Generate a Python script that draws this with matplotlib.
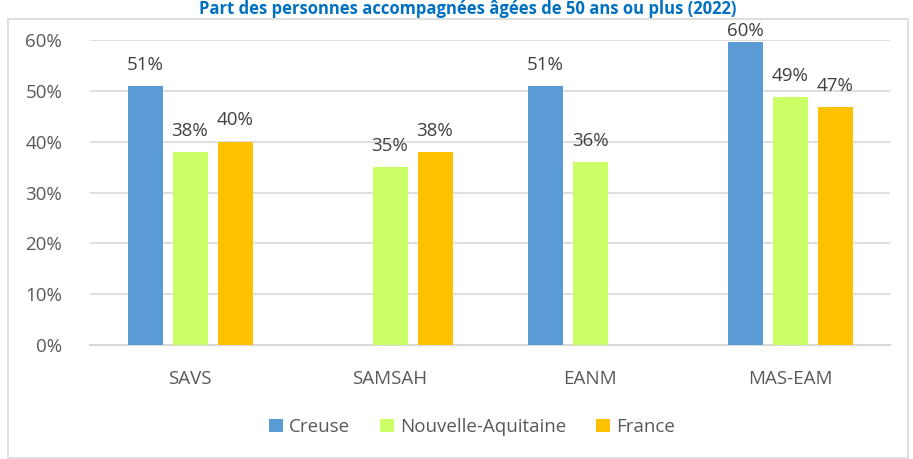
import numpy as np
import matplotlib
matplotlib.use('Agg')
import matplotlib.pyplot as plt
from matplotlib.patches import Rectangle

#==============================================================================
#DATA
#==============================================================================

categories = ['SAVS', 'SAMSAH', 'EANM', 'MAS-EAM']
series = ['Creuse', 'Nouvelle-Aquitaine', 'France']
creuse = [51, np.nan, 51, 59.6]
nouvelle_aquitaine = [38, 35, 36, 48.7]
france = [40, 38, np.nan, 46.8]
labels_creuse = ['51%', '', '51%', '60%']
labels_na = ['38%', '35%', '36%', '49%']
labels_fr = ['40%', '38%', '', '47%']
yticks = [0, 10, 20, 30, 40, 50, 60]

title = 'Part des personnes accompagnées âgées de 50 ans ou plus (2022)'

#==============================================================================
#SETTINGS
#==============================================================================

plt.rcParams['font.family'] = ['Open Sans', 'DejaVu Sans']
colors = ['#5B9BD5', '#CCFF66', '#FFC000']
tick_col = '#595959'
lab_col = '#404040'
font = 13.5

#==============================================================================
#PLOTTING
#==============================================================================

f = plt.figure(figsize=(9.13, 4.59), dpi=100)
ax = f.add_axes([90/913, 1-345/459, 800/913, 305/459])

# chart border
f.patches.append(Rectangle((8/913, 0.002), 900/913, 1-20/459, transform=f.transFigure,
                           fill=False, edgecolor='#d9d9d9', lw=1.2))

x = np.arange(len(categories))
w = 0.175
step = 0.225
data = [creuse, nouvelle_aquitaine, france]
labs = [labels_creuse, labels_na, labels_fr]
for i in range(3):
    xs = x + (i-1)*step
    ax.bar(xs, data[i], w, color=colors[i], label=series[i], zorder=3)
    for xi, v, t in zip(xs, data[i], labs[i]):
        if t:
            # labels near the top of the plot are pulled down onto the bar
            off = 2.4 if v < 55 else 0.4
            ax.text(xi, v + off, t, ha='center', va='bottom', fontsize=font, color=lab_col)

ax.set_xlim(-0.5, 3.5)
ax.set_ylim(0, 60)
ax.set_yticks(yticks)
ax.set_yticklabels(['%d%%' % t for t in yticks])
ax.set_xticks(x)
ax.set_xticklabels(categories)
ax.tick_params(axis='both', length=0, labelsize=font, colors=tick_col)
ax.tick_params(axis='x', pad=18)
ax.tick_params(axis='y', pad=20)
for s in ['top', 'right', 'left']:
    ax.spines[s].set_visible(False)
ax.spines['bottom'].set_color('#d9d9d9')
ax.spines['bottom'].set_linewidth(1.5)
ax.yaxis.grid(color='#d9d9d9', linewidth=1.2)
ax.set_axisbelow(True)

leg = f.legend(loc='center', bbox_to_anchor=(472/913, 1-427/459), ncol=3, frameon=False,
               fontsize=font, handlelength=0.75, handleheight=0.75, handletextpad=0.3,
               columnspacing=1.6)
for t in leg.get_texts():
    t.set_color(tick_col)

f.text(0.512, 1-0.5/459, title, ha='center', va='top', fontsize=12,
       fontweight='bold', color='#0070C0')

f.savefig('out.png', dpi=100)
